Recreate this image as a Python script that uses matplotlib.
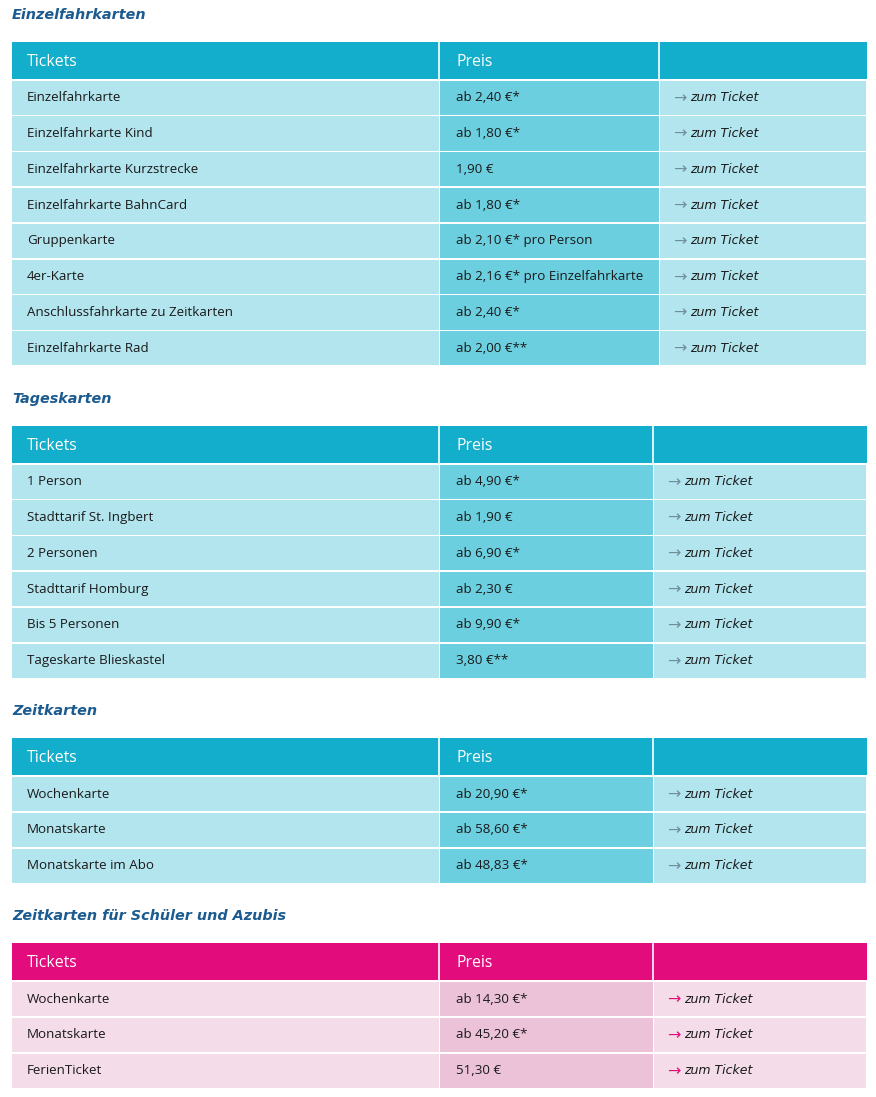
import matplotlib.pyplot as plt
from matplotlib.patches import Rectangle

# ticket data per section
einzel_names = ['Einzelfahrkarte', 'Einzelfahrkarte Kind', 'Einzelfahrkarte Kurzstrecke',
                'Einzelfahrkarte BahnCard', 'Gruppenkarte', '4er-Karte',
                'Anschlussfahrkarte zu Zeitkarten', 'Einzelfahrkarte Rad']
einzel_prices = ['ab 2,40 €*', 'ab 1,80 €*', '1,90 €', 'ab 1,80 €*', 'ab 2,10 €* pro Person',
                 'ab 2,16 €* pro Einzelfahrkarte', 'ab 2,40 €*', 'ab 2,00 €**']

tages_names = ['1 Person', 'Stadttarif St. Ingbert', '2 Personen', 'Stadttarif Homburg',
               'Bis 5 Personen', 'Tageskarte Blieskastel']
tages_prices = ['ab 4,90 €*', 'ab 1,90 €', 'ab 6,90 €*', 'ab 2,30 €', 'ab 9,90 €*', '3,80 €**']

zeit_names = ['Wochenkarte', 'Monatskarte', 'Monatskarte im Abo']
zeit_prices = ['ab 20,90 €*', 'ab 58,60 €*', 'ab 48,83 €*']

schueler_names = ['Wochenkarte', 'Monatskarte', 'FerienTicket']
schueler_prices = ['ab 14,30 €*', 'ab 45,20 €*', '51,30 €']

TEAL = dict(head='#12AECB', light='#B3E5EF', mid='#6BCFDF', arrow='#6F8E9C')
PINK = dict(head='#E20C7D', light='#F4DCE8', mid='#ECC2D9', arrow='#E20C7D')

sections = [
    ('Einzelfahrkarten', einzel_names, einzel_prices, TEAL, 660),
    ('Tageskarten', tages_names, tages_prices, TEAL, 654),
    ('Zeitkarten', zeit_names, zeit_prices, TEAL, 654),
    ('Zeitkarten für Schüler und Azubis', schueler_names, schueler_prices, PINK, 654),
]

W, H = 876, 1097
LEFT, RIGHT, COL2 = 12, 867, 440
HEAD_H, ROW_H, GAP = 37, 35.8, 1.6
TITLE_TO_HEAD = 27
SECTION_GAP = 32

plt.rcParams['font.family'] = ['Open Sans', 'DejaVu Sans']
fig = plt.figure(figsize=(W / 100, H / 100), dpi=100)
ax = fig.add_axes([0, 0, 1, 1])
ax.set_xlim(0, W)
ax.set_ylim(H, 0)
ax.axis('off')

y = 15
for title, names, prices, pal, col3 in sections:
    ax.text(LEFT, y, title, color='#1C5B8F', fontsize=10.4, fontweight='bold',
            fontstyle='italic', va='center', ha='left', family=['DejaVu Sans'])
    top = y + TITLE_TO_HEAD
    # header row
    ax.add_patch(Rectangle((LEFT, top), RIGHT - LEFT, HEAD_H, color=pal['head'], lw=0))
    for xb in (COL2 - 1, col3 - 1):
        ax.plot([xb, xb], [top, top + HEAD_H], color='white', lw=1.2)
    ax.text(27, top + HEAD_H / 2 + 1, 'Tickets', color='white', fontsize=11.4, va='center')
    ax.text(456, top + HEAD_H / 2 + 1, 'Preis', color='white', fontsize=11.4, va='center')
    ry = top + HEAD_H + GAP
    for name, price in zip(names, prices):
        h = ROW_H - GAP
        ax.add_patch(Rectangle((LEFT, ry), COL2 - 1 - LEFT, h, color=pal['light'], lw=0))
        ax.add_patch(Rectangle((COL2, ry), col3 - 1 - COL2, h, color=pal['mid'], lw=0))
        ax.add_patch(Rectangle((col3, ry), RIGHT - 1 - col3, h, color=pal['light'], lw=0))
        cy = ry + h / 2
        ax.text(27, cy, name, color='#1a1a1a', fontsize=9.6, va='center')
        ax.text(456, cy, price, color='#1a1a1a', fontsize=9.6, va='center')
        ax.text(col3 + 13, cy + 0.5, '→', color=pal['arrow'], fontsize=11.5, va='center',
                family=['DejaVu Sans'])
        ax.text(col3 + 30, cy, 'zum Ticket', color='#1a1a1a', fontsize=9,
                fontstyle='italic', va='center', family=['DejaVu Sans'])
        ry += ROW_H
    y = ry + SECTION_GAP

fig.savefig('out.png', dpi=100)
